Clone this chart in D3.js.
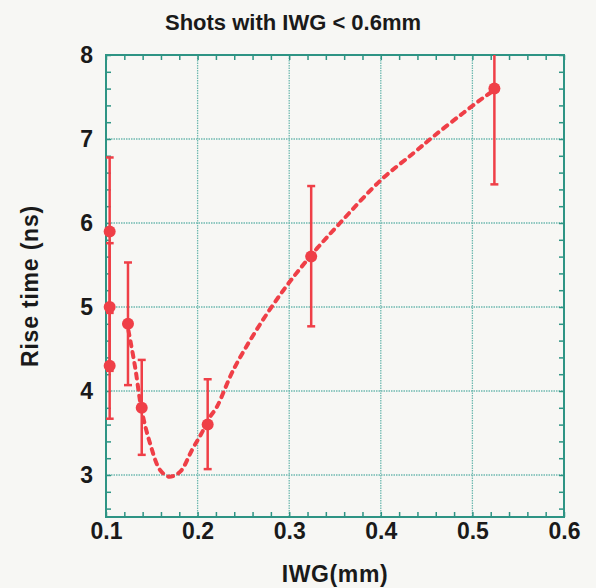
<!DOCTYPE html>
<html>
<head>
<meta charset="utf-8">
<script src="https://cdn.jsdelivr.net/npm/d3@7"></script>
<style>
  body { margin: 0; background: #f7f7f4; }
  svg { display: block; }
  text { font-family: "Liberation Sans", Arial, sans-serif; font-weight: bold; fill: #1a1a1a; }
</style>
</head>
<body>
<script>
// measured points (IWG mm, rise time ns) with error bar ends
var iwg = [0.104, 0.104, 0.104, 0.124, 0.139, 0.211, 0.324, 0.524];
var rise = [5.9, 5.0, 4.3, 4.8, 3.8, 3.6, 5.6, 7.6];
var riseLo = [5.02, 4.24, 3.67, 4.07, 3.24, 3.07, 4.77, 6.46];
var riseHi = [6.78, 5.76, 4.93, 5.53, 4.37, 4.14, 6.44, 8.74];

// dashed fit curve
var fitX = [0.1245, 0.1317, 0.139, 0.148, 0.159, 0.169, 0.181, 0.194, 0.2045, 0.2135, 0.221, 0.239, 0.2645, 0.2937, 0.3227, 0.3555, 0.4, 0.4355, 0.4574, 0.49, 0.5155, 0.524];
var fitY = [4.72, 4.29, 3.77, 3.38, 3.06, 2.98, 3.04, 3.30, 3.50, 3.69, 3.81, 4.25, 4.73, 5.20, 5.60, 6.00, 6.51, 6.83, 7.03, 7.31, 7.52, 7.58];

var xTicks = [0.1, 0.2, 0.3, 0.4, 0.5, 0.6];
var yTicks = [3, 4, 5, 6, 7, 8];

var title = "Shots with IWG < 0.6mm";
var xTitle = "IWG(mm)";
var yTitle = "Rise time (ns)";

var W = 596, H = 588;
var m = {left: 106, right: 32, top: 55, bottom: 71};
var pw = W - m.left - m.right, ph = H - m.top - m.bottom;

var red = "#ef3f47";
var frame = "#2e9484";
var gridCol = "#6fb9b0";

var svg = d3.select("body").append("svg")
    .attr("width", W)
    .attr("height", H);

svg.append("rect").attr("width", W).attr("height", H).attr("fill", "#f7f7f4");

var g = svg.append("g").attr("transform", "translate(" + m.left + "," + m.top + ")");

var x = d3.scaleLinear().domain([0.1, 0.6]).range([0, pw]);
var y = d3.scaleLinear().domain([2.5, 8]).range([ph, 0]);

var xMinor = d3.range(0.1, 0.6001, 0.02);
var yMinor = d3.range(2.6, 8.001, 0.2);

// grid
g.append("g").selectAll("line.gx")
    .data(xTicks.slice(1, -1))
    .enter().append("line")
    .attr("x1", function(d){ return x(d); })
    .attr("x2", function(d){ return x(d); })
    .attr("y1", 0).attr("y2", ph)
    .attr("stroke", gridCol).attr("stroke-width", 1.3)
    .attr("stroke-dasharray", "1.5,1");

g.append("g").selectAll("line.gy")
    .data(yTicks.slice(0, -1))
    .enter().append("line")
    .attr("y1", function(d){ return y(d); })
    .attr("y2", function(d){ return y(d); })
    .attr("x1", 0).attr("x2", pw)
    .attr("stroke", gridCol).attr("stroke-width", 1.3)
    .attr("stroke-dasharray", "1.5,1");

// axes: minor ticks inside on all four sides
function styleAxis(sel){
    sel.select(".domain").remove();
    sel.selectAll("line").attr("stroke", frame).attr("stroke-width", 1.5);
}

g.append("g").attr("transform", "translate(0," + ph + ")")
    .call(d3.axisBottom(x).tickValues(xMinor).tickSize(-5).tickFormat(""))
    .call(styleAxis);
g.append("g")
    .call(d3.axisTop(x).tickValues(xMinor).tickSize(-5).tickFormat(""))
    .call(styleAxis);
g.append("g")
    .call(d3.axisLeft(y).tickValues(yMinor).tickSize(-5).tickFormat(""))
    .call(styleAxis);
g.append("g").attr("transform", "translate(" + pw + ",0)")
    .call(d3.axisRight(y).tickValues(yMinor).tickSize(-5).tickFormat(""))
    .call(styleAxis);

// tick labels
var xl = g.append("g").attr("transform", "translate(0," + ph + ")")
    .call(d3.axisBottom(x).tickValues(xTicks).tickSize(0).tickPadding(6).tickFormat(d3.format(".1f")));
xl.select(".domain").remove();
xl.selectAll("text").attr("font-size", 23).attr("fill", "#1a1a1a");

var yl = g.append("g")
    .call(d3.axisLeft(y).tickValues(yTicks).tickSize(0).tickPadding(13).tickFormat(d3.format("d")));
yl.select(".domain").remove();
yl.selectAll("text").attr("font-size", 23).attr("fill", "#1a1a1a");

// frame
g.append("rect")
    .attr("width", pw).attr("height", ph)
    .attr("fill", "none").attr("stroke", frame).attr("stroke-width", 2);

// data layer
svg.append("clipPath").attr("id", "clip")
    .append("rect").attr("width", pw).attr("height", ph);

var d = g.append("g").attr("clip-path", "url(#clip)");

var fit = fitX.map(function(v, i){ return [v, fitY[i]]; });
var line = d3.line()
    .x(function(p){ return x(p[0]); })
    .y(function(p){ return y(p[1]); })
    .curve(d3.curveCatmullRom);

d.append("path")
    .datum(fit)
    .attr("d", line)
    .attr("fill", "none")
    .attr("stroke", red)
    .attr("stroke-width", 4)
    .attr("stroke-linecap", "round")
    .attr("stroke-dasharray", "5,6");

var pts = iwg.map(function(v, i){
    return {x: v, y: rise[i], lo: riseLo[i], hi: riseHi[i]};
});

var bars = d.selectAll("g.err").data(pts).enter().append("g");
bars.append("line")
    .attr("x1", function(p){ return x(p.x); })
    .attr("x2", function(p){ return x(p.x); })
    .attr("y1", function(p){ return y(p.lo); })
    .attr("y2", function(p){ return y(p.hi); })
    .attr("stroke", red).attr("stroke-width", 2.5);
bars.append("line")
    .attr("x1", function(p){ return x(p.x) - 4; })
    .attr("x2", function(p){ return x(p.x) + 4; })
    .attr("y1", function(p){ return y(p.lo); })
    .attr("y2", function(p){ return y(p.lo); })
    .attr("stroke", red).attr("stroke-width", 2.5);
bars.append("line")
    .attr("x1", function(p){ return x(p.x) - 4; })
    .attr("x2", function(p){ return x(p.x) + 4; })
    .attr("y1", function(p){ return y(p.hi); })
    .attr("y2", function(p){ return y(p.hi); })
    .attr("stroke", red).attr("stroke-width", 2.5);

g.selectAll("circle.pt").data(pts).enter().append("circle")
    .attr("cx", function(p){ return x(p.x); })
    .attr("cy", function(p){ return y(p.y); })
    .attr("r", 6)
    .attr("fill", red);

// titles
svg.append("text")
    .attr("x", 293).attr("y", 30)
    .attr("text-anchor", "middle")
    .attr("font-size", 22)
    .text(title);

svg.append("text")
    .attr("x", m.left + pw / 2).attr("y", 582)
    .attr("text-anchor", "middle")
    .attr("font-size", 23)
    .attr("letter-spacing", 0.6)
    .text(xTitle);

svg.append("text")
    .attr("transform", "translate(38," + (m.top + ph / 2) + ") rotate(-90)")
    .attr("text-anchor", "middle")
    .attr("font-size", 23)
    .attr("letter-spacing", 0.8)
    .text(yTitle);
</script>
</body>
</html>
